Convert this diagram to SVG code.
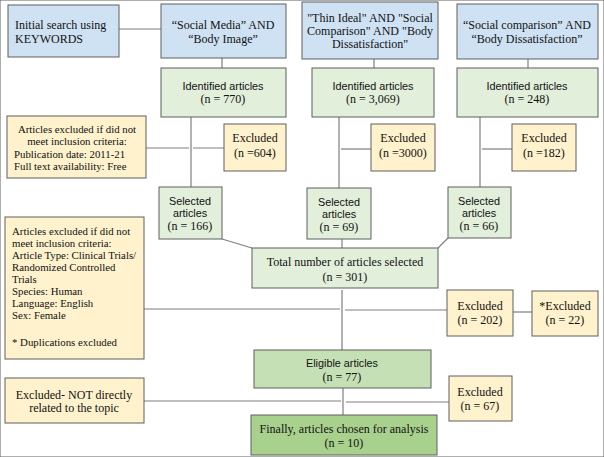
<svg xmlns="http://www.w3.org/2000/svg" width="604" height="457" viewBox="0 0 604 457">
<style>
rect{stroke:#5f5f5f;stroke-width:1}
.b{fill:#cfe2f3}
.g{fill:#e2efda}
.e{fill:#c5e0b4}
.f{fill:#a9d18e}
.y{fill:#fff2cc}
text{font-family:"Liberation Serif","Times New Roman",serif;font-size:12px;fill:#111}
.s{font-family:"Liberation Sans",Arial,sans-serif;font-size:10.8px}
.k{font-size:10.8px}
.c{text-anchor:middle}
#connectors path{stroke:#7f7f7f;stroke-width:1.2;fill:none}
</style>
<rect width="604" height="457" fill="#fff" stroke="none"/>
<g id="connectors">
<path d="M119,29H161"/>
<path d="M222,58V68"/>
<path d="M374,59V68"/>
<path d="M528,59V68"/>
<path d="M191,117V187"/>
<path d="M146,148H189M193,148H224"/>
<path d="M339,117V188"/>
<path d="M341,149H371"/>
<path d="M480,117V187"/>
<path d="M482,149H512"/>
<path d="M222,239L252,248"/>
<path d="M342,239V248"/>
<path d="M448,238L438,248"/>
<path d="M342,290V350"/>
<path d="M144,309H340M345,310H447"/>
<path d="M513,312H532"/>
<path d="M343,388V415"/>
<path d="M144,401H341M346,402H449"/>
</g>
<g id="n-initial"><rect class="b" x="8" y="5" width="111" height="52"/>
<text x="15" y="29">Initial search using</text><text x="15" y="43">KEYWORDS</text></g>
<g id="n-q1"><rect class="b" x="161" y="4" width="125" height="54"/>
<text class="c" x="223" y="29">“Social Media” AND</text><text class="c" x="223" y="43">“Body Image”</text></g>
<g id="n-q2"><rect class="b" x="302" y="2" width="136" height="57"/>
<text class="c" x="370" y="22">"Thin Ideal" AND "Social</text><text class="c" x="370" y="35">Comparison" AND "Body</text><text class="c" x="370" y="48">Dissatisfaction"</text></g>
<g id="n-q3"><rect class="b" x="457" y="4" width="141" height="55"/>
<text class="c" x="527" y="29">“Social comparison” AND</text><text class="c" x="527" y="43">“Body Dissatisfaction”</text></g>
<g id="n-id1"><rect class="g" x="161" y="68" width="125" height="49"/>
<text class="c s" x="223" y="90">Identified articles</text><text class="c" x="223" y="103">(n = 770)</text></g>
<g id="n-id2"><rect class="g" x="312" y="68" width="122" height="49"/>
<text class="c s" x="373" y="90">Identified articles</text><text class="c" x="373" y="103">(n = 3,069)</text></g>
<g id="n-id3"><rect class="g" x="457" y="68" width="141" height="49"/>
<text class="c s" x="527" y="90">Identified articles</text><text class="c" x="527" y="103">(n = 248)</text></g>
<g id="n-crit1"><rect class="y" x="7" y="116" width="139" height="62"/>
<text class="c k" x="77" y="133">Articles excluded if did not</text><text class="c k" x="77" y="145">meet inclusion criteria:</text>
<text class="k" x="14" y="158">Publication date: 2011-21</text><text class="k" x="14" y="170">Full text availability: Free</text></g>
<g id="n-ex1"><rect class="y" x="224" y="124" width="62" height="47"/>
<text class="c" x="255" y="142">Excluded</text><text class="c" x="255" y="157">(n =604)</text></g>
<g id="n-ex2"><rect class="y" x="371" y="124" width="64" height="47"/>
<text class="c" x="403" y="142">Excluded</text><text class="c" x="403" y="157">(n =3000)</text></g>
<g id="n-ex3"><rect class="y" x="512" y="124" width="64" height="47"/>
<text class="c" x="544" y="142">Excluded</text><text class="c" x="544" y="157">(n =182)</text></g>
<g id="n-sel1"><rect class="g" x="159" y="187" width="63" height="52"/>
<text class="c s" x="190" y="205">Selected</text><text class="c s" x="190" y="217">articles</text><text class="c" x="190" y="230">(n = 166)</text></g>
<g id="n-sel2"><rect class="g" x="307" y="188" width="64" height="51"/>
<text class="c s" x="339" y="206">Selected</text><text class="c s" x="339" y="218">articles</text><text class="c" x="339" y="231">(n = 69)</text></g>
<g id="n-sel3"><rect class="g" x="448" y="187" width="63" height="51"/>
<text class="c s" x="479" y="205">Selected</text><text class="c s" x="479" y="217">articles</text><text class="c" x="479" y="230">(n = 66)</text></g>
<g id="n-crit2"><rect class="y" x="5" y="217" width="139" height="142"/>
<text class="k" x="12" y="235">Articles excluded if did not</text><text class="k" x="12" y="247">meet inclusion criteria:</text>
<text class="k" x="12" y="259">Article Type: Clinical Trials/</text><text class="k" x="12" y="271">Randomized Controlled</text>
<text class="k" x="12" y="283">Trials</text><text class="k" x="12" y="295">Species: Human</text><text class="k" x="12" y="307">Language: English</text>
<text class="k" x="12" y="319">Sex: Female</text><text class="k" x="12" y="346">* Duplications excluded</text></g>
<g id="n-total"><rect class="g" x="252" y="248" width="186" height="40"/>
<text class="c" x="345" y="266">Total number of articles selected</text><text class="c" x="345" y="281">(n = 301)</text></g>
<g id="n-ex202"><rect class="y" x="447" y="290" width="66" height="46"/>
<text class="c" x="480" y="310">Excluded</text><text class="c" x="480" y="324">(n = 202)</text></g>
<g id="n-ex22"><rect class="y" x="532" y="291" width="66" height="45"/>
<text class="c" x="565" y="310">*Excluded</text><text class="c" x="565" y="324">(n = 22)</text></g>
<g id="n-elig"><rect class="e" x="254" y="350" width="177" height="38"/>
<text class="c s" x="342" y="367">Eligible articles</text><text class="c" x="342" y="381">(n = 77)</text></g>
<g id="n-exnot"><rect class="y" x="5" y="378" width="139" height="45"/>
<text class="c" x="74" y="399">Excluded- NOT directly</text><text class="c" x="74" y="412">related to the topic</text></g>
<g id="n-ex67"><rect class="y" x="449" y="376" width="63" height="45"/>
<text class="c" x="480" y="396">Excluded</text><text class="c" x="480" y="410">(n = 67)</text></g>
<g id="n-final"><rect class="f" x="251" y="415" width="186" height="40"/>
<text class="c" x="344" y="433">Finally, articles chosen for analysis</text><text class="c" x="344" y="447">(n = 10)</text></g>
</svg>
